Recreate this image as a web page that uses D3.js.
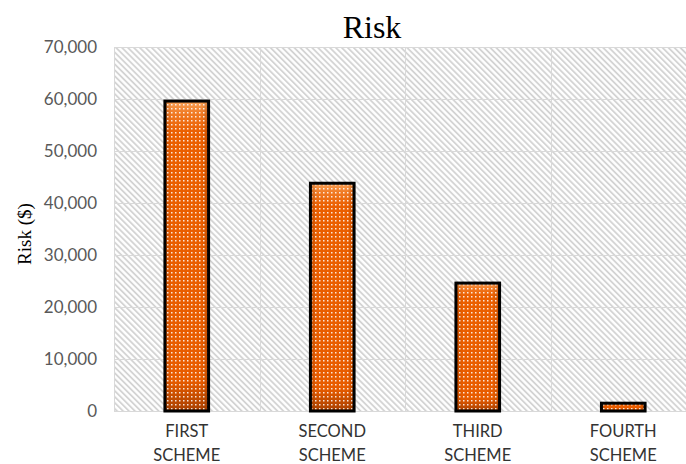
<!DOCTYPE html>
<html>
<head>
<meta charset="utf-8">
<script src="https://cdn.jsdelivr.net/npm/d3@7"></script>
<style>
  body { margin: 0; background: #fff; }
  svg { display: block; }
</style>
</head>
<body>
<div id="chart"></div>
<script>
// data
const schemes = ['FIRST SCHEME', 'SECOND SCHEME', 'THIRD SCHEME', 'FOURTH SCHEME'];
const riskValues = [59600, 43800, 24600, 1500];
const yTicks = [0, 10000, 20000, 30000, 40000, 50000, 60000, 70000];

const totalWidth = 686;
const totalHeight = 464;
const margin = { top: 47, right: -10, bottom: 53, left: 114 };
const graphWidth = totalWidth - margin.left - margin.right;
const graphHeight = totalHeight - margin.top - margin.bottom;

const svg = d3.select('#chart')
  .append('svg')
  .attr('width', totalWidth)
  .attr('height', totalHeight);

const defs = svg.append('defs');

// diagonal hatch for the plot area
const hatch = defs.append('pattern')
  .attr('id', 'hatch')
  .attr('patternUnits', 'userSpaceOnUse')
  .attr('width', 4.2)
  .attr('height', 4.2)
  .attr('patternTransform', 'rotate(-45)');
hatch.append('rect').attr('width', 4.2).attr('height', 4.2).attr('fill', '#fff');
hatch.append('line')
  .attr('x1', 1).attr('y1', 0).attr('x2', 1).attr('y2', 4.2)
  .attr('stroke', '#d0d0d0').attr('stroke-width', 1.7);

// white dots on the bars
const dots = defs.append('pattern')
  .attr('id', 'dots')
  .attr('patternUnits', 'userSpaceOnUse')
  .attr('width', 4)
  .attr('height', 4);
dots.append('rect')
  .attr('x', 1).attr('y', 1).attr('width', 1.5).attr('height', 1.5)
  .attr('fill', '#fff').attr('opacity', 0.85);

// vertical shading: light top, dark bottom
const vGrad = defs.append('linearGradient')
  .attr('id', 'vgrad').attr('x1', 0).attr('y1', 0).attr('x2', 0).attr('y2', 1);
vGrad.append('stop').attr('offset', '0%').attr('stop-color', '#f7a35a');
vGrad.append('stop').attr('offset', '4%').attr('stop-color', '#f07a24');
vGrad.append('stop').attr('offset', '10%').attr('stop-color', '#eb5f00');
vGrad.append('stop').attr('offset', '90%').attr('stop-color', '#e85c00');
vGrad.append('stop').attr('offset', '100%').attr('stop-color', '#a84000');

// horizontal shading on the bar sides
const hGrad = defs.append('linearGradient')
  .attr('id', 'hgrad').attr('x1', 0).attr('y1', 0).attr('x2', 1).attr('y2', 0);
hGrad.append('stop').attr('offset', '0%').attr('stop-color', '#7a2e00').attr('stop-opacity', 0.35);
hGrad.append('stop').attr('offset', '15%').attr('stop-color', '#7a2e00').attr('stop-opacity', 0);
hGrad.append('stop').attr('offset', '85%').attr('stop-color', '#7a2e00').attr('stop-opacity', 0);
hGrad.append('stop').attr('offset', '100%').attr('stop-color', '#7a2e00').attr('stop-opacity', 0.35);

const graph = svg.append('g')
  .attr('transform', `translate(${margin.left}, ${margin.top})`);

// Scales
const y = d3.scaleLinear()
  .domain([0, 70000])
  .range([graphHeight, 0]);

const x = d3.scaleBand()
  .domain(schemes)
  .range([0, graphWidth])
  .paddingInner(0.7)
  .paddingOuter(0.35);

graph.append('rect')
  .attr('width', graphWidth)
  .attr('height', graphHeight)
  .attr('fill', 'url(#hatch)');

// horizontal gridlines
graph.append('g')
  .selectAll('line')
  .data(yTicks)
  .join('line')
  .attr('x1', 0).attr('x2', graphWidth)
  .attr('y1', d => Math.round(y(d)) + 0.5)
  .attr('y2', d => Math.round(y(d)) + 0.5)
  .attr('stroke', '#d9d9d9');

// vertical category dividers
graph.append('g')
  .selectAll('line')
  .data(d3.range(schemes.length + 1))
  .join('line')
  .attr('x1', i => Math.round(i * x.step()) + 0.5)
  .attr('x2', i => Math.round(i * x.step()) + 0.5)
  .attr('y1', 0).attr('y2', graphHeight)
  .attr('stroke', '#d9d9d9');

const bars = schemes.map((name, i) => ({ name, value: riskValues[i] }));

const barGroups = graph.selectAll('g.bar')
  .data(bars)
  .join('g')
  .attr('class', 'bar');

['url(#vgrad)', 'url(#hgrad)', 'url(#dots)'].forEach(fill => {
  barGroups.append('rect')
    .attr('x', d => x(d.name))
    .attr('y', d => y(d.value))
    .attr('width', x.bandwidth())
    .attr('height', d => graphHeight - y(d.value))
    .attr('fill', fill);
});

barGroups.append('rect')
  .attr('x', d => x(d.name))
  .attr('y', d => y(d.value))
  .attr('width', x.bandwidth())
  .attr('height', d => graphHeight - y(d.value))
  .attr('fill', 'none')
  .attr('stroke', '#000')
  .attr('stroke-width', 3);

// y tick labels
graph.append('g')
  .selectAll('text')
  .data(yTicks)
  .join('text')
  .attr('x', -17)
  .attr('y', d => y(d))
  .attr('dy', '0.35em')
  .attr('text-anchor', 'end')
  .attr('font-family', 'Lato, "Liberation Sans", sans-serif')
  .attr('font-size', 17)
  .attr('fill', '#595959')
  .text(d => d3.format(',')(d));

// category labels, two lines
const catLabels = graph.append('g')
  .selectAll('text')
  .data(schemes)
  .join('text')
  .attr('x', d => x(d) + x.bandwidth() / 2)
  .attr('y', graphHeight + 26)
  .attr('text-anchor', 'middle')
  .attr('font-family', 'Lato, "Liberation Sans", sans-serif')
  .attr('font-size', 16.5)
  .attr('fill', '#333');
catLabels.selectAll('tspan')
  .data(d => d.split(' '))
  .join('tspan')
  .attr('x', function () { return d3.select(this.parentNode).attr('x'); })
  .attr('dy', (d, i) => i === 0 ? 0 : 23.5)
  .text(d => d);

// titles
svg.append('text')
  .attr('x', 372)
  .attr('y', 38)
  .attr('text-anchor', 'middle')
  .attr('font-family', '"Liberation Serif", "Times New Roman", serif')
  .attr('font-size', 32)
  .attr('fill', '#000')
  .text('Risk');

svg.append('text')
  .attr('transform', 'translate(31, 234) rotate(-90)')
  .attr('text-anchor', 'middle')
  .attr('font-family', '"Liberation Serif", "Times New Roman", serif')
  .attr('font-size', 19)
  .attr('fill', '#000')
  .text('Risk ($)');
</script>
</body>
</html>
